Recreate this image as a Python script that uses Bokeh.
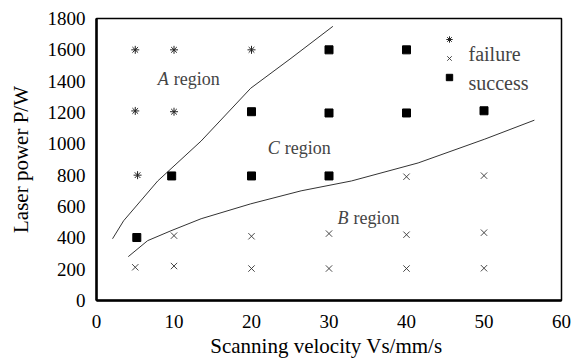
from bokeh.plotting import figure
from bokeh.models import Range1d, Label, Legend, LegendItem, FixedTicker
from bokeh.embed import file_html
from bokeh.resources import INLINE

# ---- data ----
fail_star_x = [5, 10, 20, 5, 10, 5.3]
fail_star_y = [1600, 1600, 1600, 1210, 1205, 800]

fail_cross_x = [10, 20, 5, 10, 20, 30, 40, 50, 30, 40, 50, 40, 50]
fail_cross_y = [414, 410, 212, 220, 204, 427, 420, 433, 204, 204, 206, 790, 797]

success_x = [5.2, 9.7, 20, 20, 30, 40, 30, 40, 50, 30]
success_y = [402, 795, 1205, 795, 1600, 1600, 1197, 1197, 1211, 795]

upper_x = [2.07, 3.5, 5.7, 7.9, 13.5, 19.9, 25.1, 30.5]
upper_y = [394, 509, 636, 763, 1018, 1355, 1546, 1750]

lower_x = [4.1, 6.6, 9.6, 13.5, 19.9, 26.4, 32.9, 41.5, 50.1, 56.5]
lower_y = [280, 382, 445, 522, 617, 700, 763, 878, 1030, 1151]

x_ticks = [0, 10, 20, 30, 40, 50, 60]
y_ticks = [0, 200, 400, 600, 800, 1000, 1200, 1400, 1600, 1800]

x_title = "Scanning velocity  Vs/mm/s"
y_title = "Laser power P/W"

FONT = "Liberation Serif"
W, H = 581, 363

p = figure(width=W, height=H, output_backend="svg", toolbar_location=None,
           x_range=Range1d(0, 60), y_range=Range1d(0, 1800),
           min_border_left=96, min_border_right=20, min_border_top=18, min_border_bottom=63)
p.xgrid.visible = False
p.ygrid.visible = False
p.background_fill_color = "white"
p.border_fill_color = "white"
p.outline_line_color = "black"
p.outline_line_width = 1.5

for ax in (p.xaxis[0], p.yaxis[0]):
    ax.major_tick_in = 0
    ax.major_tick_out = 0
    ax.minor_tick_in = 0
    ax.minor_tick_out = 0
    ax.axis_line_width = 2.5
    ax.axis_line_color = "black"
    ax.major_label_text_font = FONT
    ax.major_label_text_font_size = "19px"
    ax.major_label_text_color = "black"
    ax.axis_label_text_font = FONT
    ax.axis_label_text_font_size = "21px"
    ax.axis_label_text_font_style = "normal"
    ax.axis_label_text_color = "black"
p.xaxis.ticker = FixedTicker(ticks=x_ticks)
p.yaxis.ticker = FixedTicker(ticks=y_ticks)
p.xaxis.major_label_standoff = 14
p.yaxis.major_label_standoff = 11
p.xaxis.axis_label = x_title
p.yaxis.axis_label = y_title
p.xaxis.axis_label_standoff = 3
p.yaxis.axis_label_standoff = 12

# curves
p.line(upper_x, upper_y, line_color="#333333", line_width=1)
p.line(lower_x, lower_y, line_color="#333333", line_width=1)

# points
r_star = p.scatter(fail_star_x, fail_star_y, marker="asterisk", size=8,
                   line_color="#222222", line_width=1)
r_cross = p.scatter(fail_cross_x, fail_cross_y, marker="x", size=9,
                    line_color="#333333", line_width=0.9)
r_sq = p.scatter(success_x, success_y, marker="square", size=8,
                 fill_color="black", line_color="black")

# legend (glyphs only; texts added as labels)
legend = Legend(items=[LegendItem(label=" ", renderers=[r_star]),
                       LegendItem(label=" ", renderers=[r_cross]),
                       LegendItem(label=" ", renderers=[r_sq])],
                location=(345, 215), orientation="vertical",
                glyph_width=16, glyph_height=16, spacing=3, padding=0, margin=0,
                border_line_color=None, background_fill_alpha=0,
                label_text_font_size="2px", label_width=2, label_standoff=0)
p.add_layout(legend, "center")

# screen units are relative to the plot frame (x from left, y from bottom)
p.add_layout(Label(x=372, y=247, x_units="screen", y_units="screen", text="failure",
                   text_font=FONT, text_font_size="20px", text_baseline="alphabetic"))
p.add_layout(Label(x=372, y=218, x_units="screen", y_units="screen", text="success",
                   text_font=FONT, text_font_size="20px", text_baseline="alphabetic"))

# region labels
def region(x, y, letter, off):
    p.add_layout(Label(x=x, y=y, text=letter, text_font=FONT, text_font_size="18px",
                       text_font_style="italic", text_baseline="alphabetic"))
    p.add_layout(Label(x=x, y=y, x_offset=off, text="region", text_font=FONT,
                       text_font_size="18px", text_baseline="alphabetic"))

region(7.9, 1415, "A", 16)
region(22.1, 976, "C", 17)
region(31.1, 529, "B", 16)

open("out.html", "w").write(file_html(p, INLINE))
